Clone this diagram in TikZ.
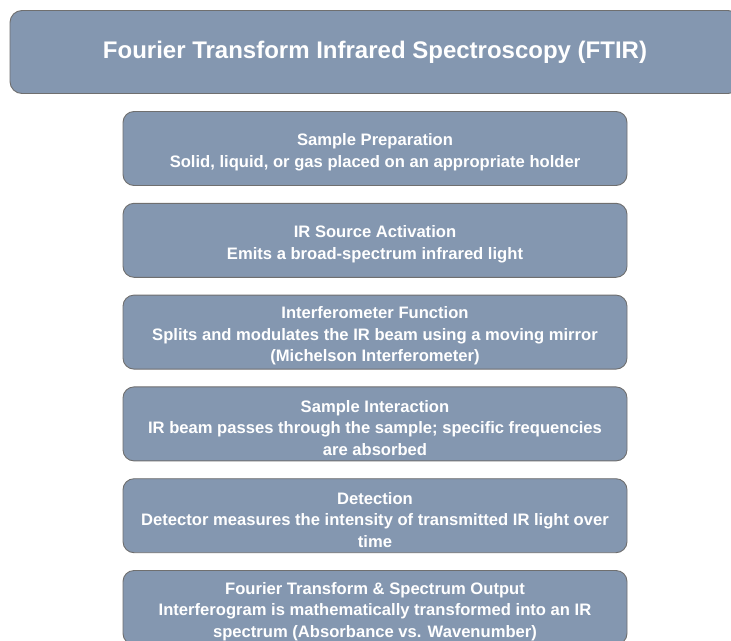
\documentclass[tikz,border=0pt]{standalone}
\usepackage{fontspec}
\setmainfont{Liberation Sans}
\usetikzlibrary{positioning}
\definecolor{stepfill}{HTML}{8497B0}
\definecolor{stepline}{HTML}{6F6F6F}
\begin{document}
\begin{tikzpicture}[x=1pt,y=-1pt,
  titlebox/.style={draw=stepline,fill=stepfill,rounded corners=12pt,line width=0.9pt,
    minimum width=730pt,minimum height=83pt,text=white,align=center,
    font=\bfseries\fontsize{24}{28}\selectfont},
  stagebox/.style={draw=stepline,fill=stepfill,rounded corners=11pt,line width=0.9pt,
    minimum width=504pt,minimum height=74pt},
  stagetext/.style={text=white,align=center,inner sep=0pt,yshift=-4pt,
    font=\bfseries\fontsize{16.6}{21.6}\selectfont}]
 \useasboundingbox (0,0) rectangle (731,640);
 \clip (0,0) rectangle (731,640);
 % heading
 \node[titlebox] (title) at (375,52) {Fourier Transform Infrared Spectroscopy (FTIR)};
 % the six stages, one under the other
 \node[stagebox,label={[stagetext]center:{Sample Preparation\\Solid, liquid, or gas placed on an appropriate holder}}] (prep) at (375,148.5) {};
 \node[stagebox,below=16.9pt of prep,label={[stagetext]center:{IR Source Activation\\Emits a broad-spectrum infrared light}}] (source) {};
 \node[stagebox,below=16.9pt of source,label={[stagetext]center:{Interferometer Function\\Splits and modulates the IR beam using a moving mirror\\(Michelson Interferometer)}}] (interf) {};
 \node[stagebox,below=16.9pt of interf,label={[stagetext]center:{Sample Interaction\\IR beam passes through the sample; specific frequencies\\are absorbed}}] (inter) {};
 \node[stagebox,below=16.9pt of inter,label={[stagetext]center:{Detection\\Detector measures the intensity of transmitted IR light over\\time}}] (detect) {};
 \node[stagebox,below=16.9pt of detect,label={[stagetext]center:{Fourier Transform \& Spectrum Output\\Interferogram is mathematically transformed into an IR\\spectrum (Absorbance vs. Wavenumber)}}] (output) {};
\end{tikzpicture}
\end{document}
